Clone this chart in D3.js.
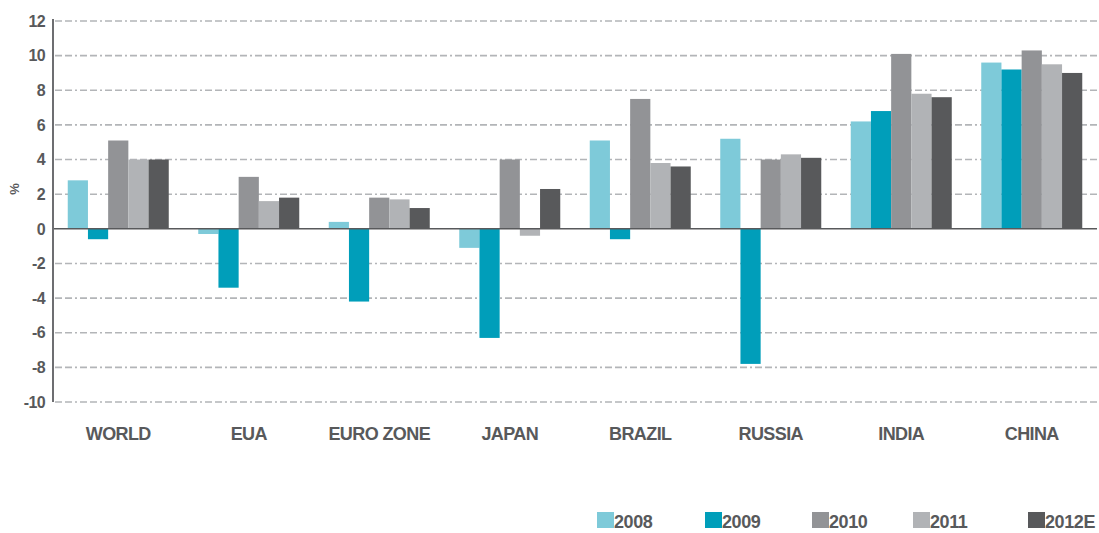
<!DOCTYPE html>
<html>
<head>
<meta charset="utf-8">
<script src="https://cdn.jsdelivr.net/npm/d3@7"></script>
<style>
	body { margin: 0; background: #fff; }
	text { font-family: "Liberation Sans", Arial, sans-serif; font-weight: bold; fill: #58595b; }
</style>
</head>
<body>
<svg id="chart" width="1099" height="533"></svg>
<script>
	// The regions shown along the x axis
	var categories = ['WORLD', 'EUA', 'EURO ZONE', 'JAPAN', 'BRAZIL', 'RUSSIA', 'INDIA', 'CHINA'];
	// The series, one per year
	var years = ['2008', '2009', '2010', '2011', '2012E'];
	var values2008 = [2.8, -0.3, 0.4, -1.1, 5.1, 5.2, 6.2, 9.6];
	var values2009 = [-0.6, -3.4, -4.2, -6.3, -0.6, -7.8, 6.8, 9.2];
	var values2010 = [5.1, 3.0, 1.8, 4.0, 7.5, 4.0, 10.1, 10.3];
	var values2011 = [4.0, 1.6, 1.7, -0.4, 3.8, 4.3, 7.8, 9.5];
	var values2012 = [4.0, 1.8, 1.2, 2.3, 3.6, 4.1, 7.6, 9.0];
	// The y axis ticks
	var yTicks = [12, 10, 8, 6, 4, 2, 0, -2, -4, -6, -8, -10];

	var colors = ['#7ecad9', '#009eba', '#929396', '#b1b3b6', '#58595b'];
	var series = [values2008, values2009, values2010, values2011, values2012];

	// The plot area
	var LEFT = 53;
	var RIGHT = 1097;
	var TOP = 21;
	var BOTTOM = 402;

	var svg = d3.select('#chart');

	var x0 = d3.scaleBand().domain(categories).range([LEFT, RIGHT])
		.paddingInner(0.226).paddingOuter(0.113);
	var x1 = d3.scaleBand().domain(years).range([0, x0.bandwidth()]);
	var y = d3.scaleLinear().domain([-10, 12]).range([BOTTOM, TOP]);

	// Dash-dot grid lines
	svg.append('g').selectAll('line').data(yTicks.filter(function (d) { return d !== 0; }))
		.enter().append('line')
		.attr('x1', LEFT + 2).attr('x2', RIGHT)
		.attr('y1', function (d) { return y(d); })
		.attr('y2', function (d) { return y(d); })
		.attr('stroke', '#b3b5b8')
		.attr('stroke-width', 1.6)
		.attr('stroke-dasharray', '7,3,7,3,2,3');

	// Bars, grouped by region
	var groups = svg.append('g').selectAll('g').data(categories).enter().append('g')
		.attr('transform', function (d) { return 'translate(' + x0(d) + ',0)'; });
	groups.selectAll('rect').data(function (d, i) {
		return years.map(function (yr, j) { return { year: yr, value: series[j][i], color: colors[j] }; });
	}).enter().append('rect')
		.attr('x', function (d) { return x1(d.year); })
		.attr('width', x1.bandwidth())
		.attr('y', function (d) { return y(Math.max(0, d.value)); })
		.attr('height', function (d) { return Math.abs(y(d.value) - y(0)); })
		.attr('fill', function (d) { return d.color; });

	// Zero line
	svg.append('line')
		.attr('x1', LEFT).attr('x2', RIGHT)
		.attr('y1', y(0)).attr('y2', y(0))
		.attr('stroke', '#58595b').attr('stroke-width', 1.5);

	// Y axis line and labels
	svg.append('line')
		.attr('x1', LEFT).attr('x2', LEFT)
		.attr('y1', TOP - 2).attr('y2', BOTTOM)
		.attr('stroke', '#6d6e71').attr('stroke-width', 2);
	svg.append('g').selectAll('text').data(yTicks).enter().append('text')
		.attr('x', 45)
		.attr('y', function (d) { return y(d); })
		.attr('dy', '0.36em')
		.attr('text-anchor', 'end')
		.attr('font-size', 16)
		.attr('letter-spacing', -0.6)
		.text(function (d) { return d; });
	svg.append('text')
		.attr('transform', 'translate(19,' + y(2.3) + ') rotate(-90)')
		.attr('text-anchor', 'middle')
		.attr('font-size', 13)
		.text('%');

	// Category labels
	svg.append('g').selectAll('text').data(categories).enter().append('text')
		.attr('x', function (d) { return x0(d) + x0.bandwidth() / 2; })
		.attr('y', 440)
		.attr('text-anchor', 'middle')
		.attr('font-size', 18)
		.attr('letter-spacing', -0.6)
		.text(function (d) { return d; });

	// Legend
	var legendX = [597, 705, 812, 913, 1028];
	var legend = svg.append('g').selectAll('g').data(years).enter().append('g')
		.attr('transform', function (d, i) { return 'translate(' + legendX[i] + ',512)'; });
	legend.append('rect')
		.attr('width', 17).attr('height', 16)
		.attr('fill', function (d, i) { return colors[i]; });
	legend.append('text')
		.attr('x', 17).attr('y', 16)
		.attr('font-size', 18)
		.attr('letter-spacing', -0.4)
		.text(function (d) { return d; });
</script>
</body>
</html>
